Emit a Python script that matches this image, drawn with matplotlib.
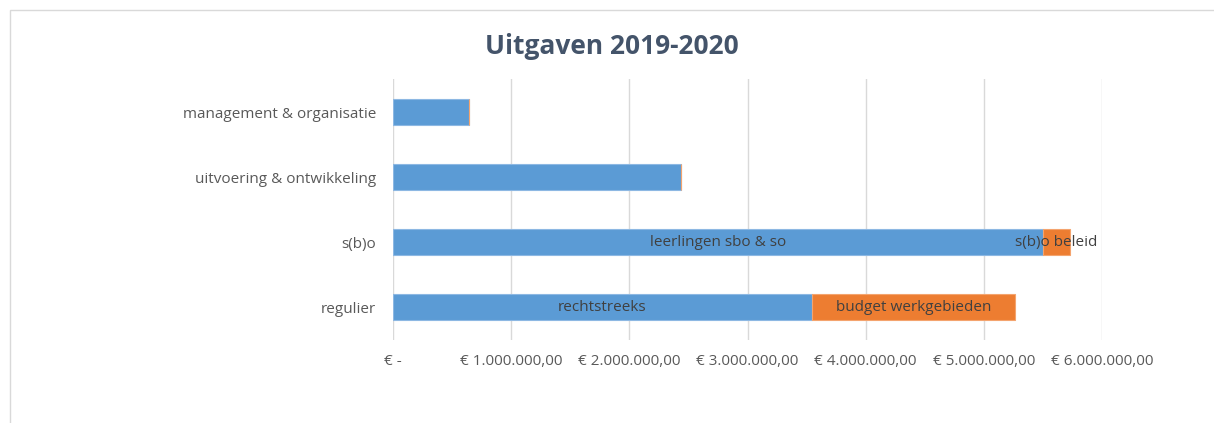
import matplotlib.pyplot as plt
from matplotlib.patches import Rectangle

categories = ['regulier', 's(b)o', 'uitvoering & ontwikkeling', 'management & organisatie']
part1 = [3545000, 5500000, 2437000, 643000]
part2 = [1715000, 230000, 0, 0]
part1_labels = ['rechtstreeks', 'leerlingen sbo & so', '', '']
part2_labels = ['budget werkgebieden', 's(b)o beleid', '', '']
ticks = [0, 1e6, 2e6, 3e6, 4e6, 5e6, 6e6]
tick_labels = ['€ -', '€ 1.000.000,00', '€ 2.000.000,00', '€ 3.000.000,00',
               '€ 4.000.000,00', '€ 5.000.000,00', '€ 6.000.000,00']

plt.rcParams['font.family'] = ['Open Sans', 'DejaVu Sans']

W, H = 1214, 423
fig = plt.figure(figsize=(W / 100, H / 100), dpi=100)
fig.patches.append(Rectangle((10 / W, -0.05), 1.2, (H - 10) / H + 0.05, transform=fig.transFigure,
                             fill=False, edgecolor='#D9D9D9', linewidth=1))

ax = fig.add_axes([393 / W, (H - 340) / H, (1102 - 393) / W, (340 - 79.5) / H])

blue = '#5B9BD5'
orange = '#ED7D31'
y = range(len(categories))
ax.barh(y, part1, height=0.4, color=blue, edgecolor='#8DB8E3', linewidth=0.8, zorder=2)
ax.barh(y, part2, left=part1, height=0.4, color=orange, edgecolor='#F4A46E', linewidth=0.8, zorder=2)

for i in y:
    if part1_labels[i]:
        ax.text(part1[i] / 2, i, part1_labels[i], ha='center', va='center',
                fontsize=11, color='#404040', zorder=3)
    if part2_labels[i]:
        ax.text(part1[i] + part2[i] / 2, i, part2_labels[i], ha='center', va='center',
                fontsize=11, color='#404040', zorder=3)

ax.set_xlim(0, 6e6)
ax.set_ylim(-0.5, 3.5)
ax.set_xticks(ticks)
ax.set_xticklabels(tick_labels)
ax.set_yticks(list(y))
ax.set_yticklabels(categories)
ax.tick_params(axis='both', length=0, labelsize=11, labelcolor='#595959')
ax.tick_params(axis='y', pad=12)
ax.tick_params(axis='x', pad=10)
ax.grid(axis='x', color='#D9D9D9', linewidth=1, zorder=0)
for s in ax.spines.values():
    s.set_visible(False)

fig.text(612 / W, 1 - 46 / H, 'Uitgaven 2019-2020', ha='center', va='center',
         fontsize=19, fontweight='bold', color='#44546A')

fig.savefig('out.png', dpi=100)
